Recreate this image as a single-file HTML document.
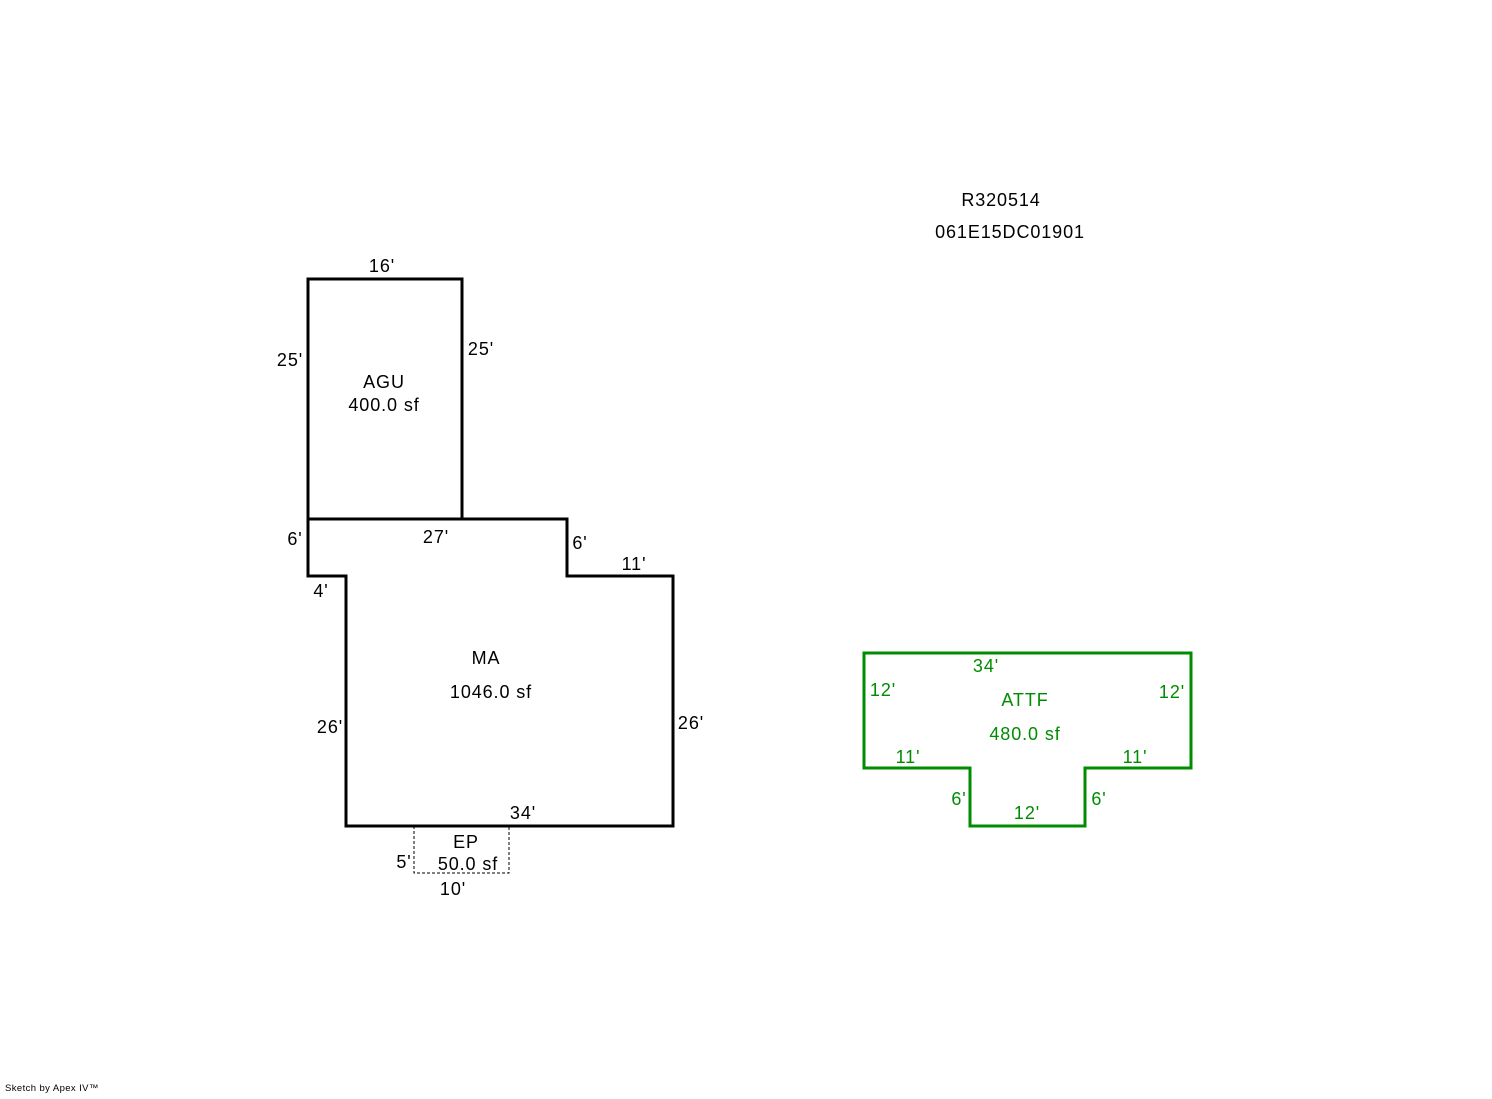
<!DOCTYPE html>
<html><head><meta charset="utf-8"><style>
html,body{margin:0;padding:0;background:#fff;}
svg text{font-family:"Liberation Sans",Arial,sans-serif;font-size:18px;letter-spacing:0.9px;}
</style></head><body>
<svg width="1492" height="1094" viewBox="0 0 1492 1094" xmlns="http://www.w3.org/2000/svg">
<rect width="1492" height="1094" fill="#fff"/>
<g fill="none" stroke="#000" stroke-width="3" stroke-linejoin="miter">
<rect x="308" y="279" width="154" height="240"/>
<polygon points="308,519 567,519 567,576 673,576 673,826 346,826 346,576 308,576"/>
</g>
<polyline points="414,826 414,873 509,873 509,826" fill="none" stroke="#000" stroke-width="1" stroke-dasharray="3,2"/>
<polygon points="864,653 1191,653 1191,768 1085,768 1085,826 970,826 970,768 864,768" fill="none" stroke="#008c00" stroke-width="3"/>
<g fill="#000">
<text x="1001" y="206" text-anchor="middle">R320514</text>
<text x="1010" y="238" text-anchor="middle">061E15DC01901</text>
<text x="382" y="272" text-anchor="middle">16'</text>
<text x="290" y="366" text-anchor="middle">25'</text>
<text x="481" y="355" text-anchor="middle">25'</text>
<text x="384" y="388" text-anchor="middle">AGU</text>
<text x="384" y="411" text-anchor="middle">400.0 sf</text>
<text x="295" y="545" text-anchor="middle">6'</text>
<text x="436" y="543" text-anchor="middle">27'</text>
<text x="580" y="549" text-anchor="middle">6'</text>
<text x="634" y="570" text-anchor="middle">11'</text>
<text x="321" y="597" text-anchor="middle">4'</text>
<text x="486" y="664" text-anchor="middle">MA</text>
<text x="491" y="698" text-anchor="middle">1046.0 sf</text>
<text x="330" y="733" text-anchor="middle">26'</text>
<text x="691" y="729" text-anchor="middle">26'</text>
<text x="523" y="819" text-anchor="middle">34'</text>
<text x="466" y="848" text-anchor="middle">EP</text>
<text x="468" y="870" text-anchor="middle">50.0 sf</text>
<text x="404" y="868" text-anchor="middle">5'</text>
<text x="453" y="895" text-anchor="middle">10'</text>
</g>
<g fill="#008c00">
<text x="986" y="672" text-anchor="middle">34'</text>
<text x="883" y="696" text-anchor="middle">12'</text>
<text x="1172" y="698" text-anchor="middle">12'</text>
<text x="1025" y="706" text-anchor="middle">ATTF</text>
<text x="1025" y="740" text-anchor="middle">480.0 sf</text>
<text x="908" y="763" text-anchor="middle">11'</text>
<text x="1135" y="763" text-anchor="middle">11'</text>
<text x="959" y="805" text-anchor="middle">6'</text>
<text x="1099" y="805" text-anchor="middle">6'</text>
<text x="1027" y="819" text-anchor="middle">12'</text>
</g>
<text x="5" y="1091" style="font-size:9.5px;letter-spacing:0.4px" fill="#000">Sketch by Apex IV™</text>
</svg>
</body></html>
